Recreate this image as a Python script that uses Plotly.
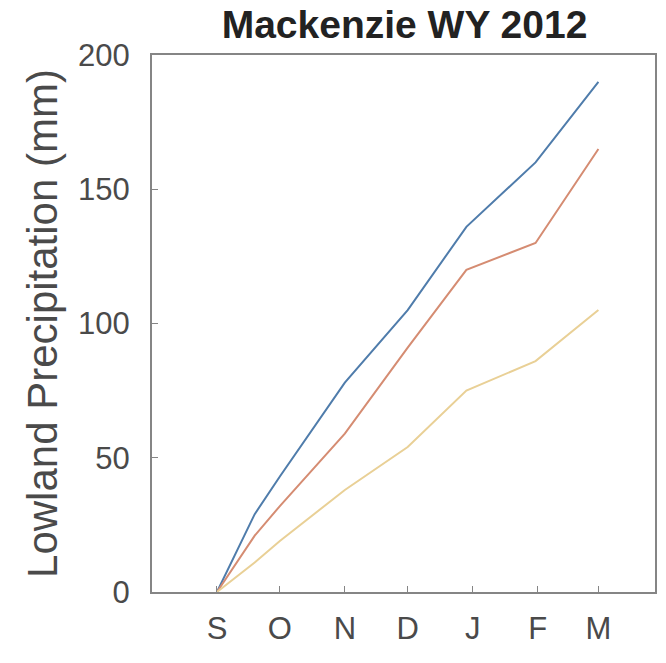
import plotly.graph_objects as go

# Data (cumulative lowland precipitation, mm)
dates = ["2011-09-01", "2011-09-19", "2011-10-01", "2011-11-01", "2011-12-01",
         "2011-12-29", "2012-01-31", "2012-03-01"]
series_a = [0, 29, 43, 78, 105, 136, 160, 190]
series_b = [0, 21, 32, 59, 91, 120, 130, 165]
series_c = [0, 11, 19, 38, 54, 75, 86, 105]

tick_dates = ["2011-09-01", "2011-10-01", "2011-11-01", "2011-12-01",
              "2012-01-01", "2012-02-01", "2012-03-01"]
tick_labels = ["S", "O", "N", "D", "J", "F", "M"]
y_ticks = [0, 50, 100, 150, 200]

colors = ["#4f7cab", "#d58c72", "#e9d096"]

fig = go.Figure()
for vals, col in zip([series_a, series_b, series_c], colors):
    fig.add_trace(go.Scatter(x=dates, y=vals, mode="lines",
                             line=dict(color=col, width=2), showlegend=False))

axis_common = dict(showline=True, mirror=True, linecolor="#858585", linewidth=2,
                   ticks="inside", ticklen=6, tickcolor="#858585", tickwidth=1,
                   showgrid=False, zeroline=False,
                   tickfont=dict(family="Liberation Sans, Arial", size=31, color="#4a4a4a"))

fig.update_layout(
    width=666, height=663,
    margin=dict(l=152, r=9, t=55, b=71),
    paper_bgcolor="white", plot_bgcolor="white",
    title=dict(text="<b>Mackenzie WY 2012</b>", x=(152 + 657) / 2 / 666, xanchor="center",
               y=1 - 24 / 663, yanchor="middle", yref="container",
               font=dict(family="Liberation Sans, Arial", size=39, color="#222222")),
    xaxis=dict(type="date", range=["2011-08-01", "2012-03-28"],
               tickvals=tick_dates, ticktext=tick_labels, ticklabelstandoff=8, **axis_common),
    yaxis=dict(range=[0, 200], tickvals=y_ticks, ticklabelstandoff=14, **axis_common),
    annotations=[dict(text="Lowland Precipitation (mm)", textangle=-90,
                      xref="paper", yref="paper", x=(42 - 152) / 505, y=0.5,
                      xanchor="center", yanchor="middle", showarrow=False,
                      font=dict(family="Liberation Sans, Arial", size=42, color="#4a4a4a"))],
)

fig.write_html("out.html")
